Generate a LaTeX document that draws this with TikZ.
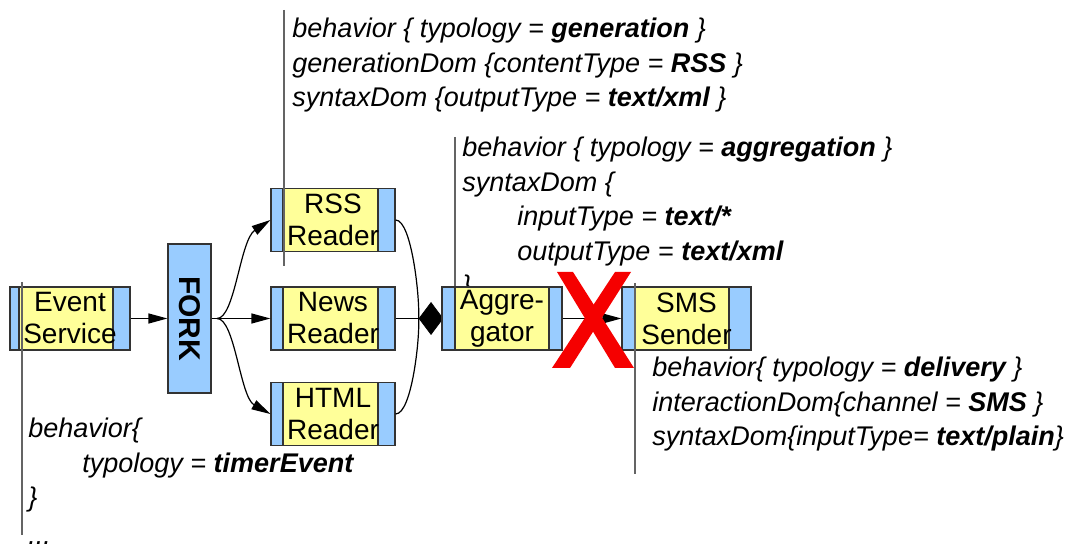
\documentclass[tikz,border=0pt]{standalone}
\usepackage{fontspec}
\setmainfont{Liberation Sans}
\usepackage{graphicx}
\usetikzlibrary{arrows.meta,shapes.geometric}
\definecolor{compblue}{RGB}{153,204,255}
\definecolor{compyellow}{RGB}{255,255,153}
\definecolor{edgegray}{RGB}{51,51,51}
\definecolor{notegray}{RGB}{100,100,100}
\definecolor{crossred}{RGB}{245,0,0}

\begin{document}
\begin{tikzpicture}[x=0.5pt,y=-0.5pt,
  % component box: width, left strip, right strip (all in px)
  comp/.style n args={3}{draw=edgegray, line width=0.6pt, fill=compblue,
    minimum width=#1*0.5pt, minimum height=31.5pt, inner sep=0pt,
    align=center, font=\fontsize{14}{16}\selectfont,
    path picture={\fill[compyellow,draw=edgegray,line width=0.6pt]
      ([xshift=#2*0.5pt]path picture bounding box.south west) rectangle
      ([xshift=-#3*0.5pt]path picture bounding box.north east);}},
  forkbar/.style={draw=edgegray, line width=0.6pt, fill=compblue,
    minimum width=21.5pt, minimum height=74.5pt, inner sep=0pt,
    font=\fontsize{15}{17}\selectfont\bfseries},
  joinmark/.style={diamond, fill=black, draw=black, line width=0.4pt,
    inner sep=0pt, minimum width=12pt, minimum height=16pt},
  note/.style={anchor=base west, inner sep=0pt,
    font=\fontsize{13.5}{17}\selectfont\itshape},
  noteline/.style={draw=notegray, line width=0.8pt},
  wire/.style={draw=black, line width=0.6pt},
  flow/.style={wire, -{Triangle[length=9.5pt,width=5pt]}},
]
\useasboundingbox (0,0) rectangle (1070,544);

% annotations of the generation component
\node[note] (gen1) at (292,38)   {behavior \{ typology = \textbf{generation} \}};
\node[note] (gen2) at (292,72.5) {generationDom \{contentType = \textbf{RSS} \}};
\node[note] (gen3) at (292,107)  {syntaxDom \{outputType = \textbf{text/xml} \}};

% annotations of the aggregator (closing brace sits behind the box)
\node[note] (agg1) at (462,157)   {behavior \{ typology = \textbf{aggregation} \}};
\node[note] (agg2) at (462,191.5) {syntaxDom \{};
\node[note] (agg3) at (517,226)   {inputType = \textbf{text/*}};
\node[note] (agg4) at (517,260.5) {outputType = \textbf{text/xml}};
\node[note] (agg5) at (462,295)   {\}};

% annotations of the SMS sender
\node[note] (sms1) at (652,377)   {behavior\{ typology = \textbf{delivery} \}};
\node[note] (sms2) at (652,411.5) {interactionDom\{channel = \textbf{SMS} \}};
\node[note] (sms3) at (652,446)   {syntaxDom\{inputType= \textbf{text/plain}\}};

% annotations of the event service
\node[note] (ev1) at (28,438)   {behavior\{};
\node[note] (ev2) at (82,472.5) {typology = \textbf{timerEvent}};
\node[note] (ev3) at (28,507)   {\}};
\node[note] (ev4) at (28,544.5) {...};

% components
\node[comp={120}{9}{17}]  (event) at (70,318.5)  {Event\\Service};
\node[forkbar]            (fork)  at (189.5,318.5) {\rotatebox{-90}{FORK}};
\node[comp={124}{12}{17}] (rss)   at (333,220)   {RSS\\Reader};
\node[comp={124}{12}{17}] (news)  at (333,318.5) {News\\Reader};
\node[comp={124}{12}{17}] (html)  at (333,414)   {HTML\\Reader};
\node[joinmark]           (join)  at (431,318.5) {};
\node[comp={120}{13}{13}] (agg)   at (502,318.5) {Aggre-\\gator};
\node[comp={129}{13}{22}] (sms)   at (686.5,318.5) {SMS\\Sender};

% annotation leader lines
\coordinate (genTop) at (284,10);   \coordinate (genEnd) at (284,266);
\coordinate (aggTop) at (455,137);
\coordinate (smsTop) at (635,283);  \coordinate (smsEnd) at (635,474);
\coordinate (evTop)  at (22,282);   \coordinate (evEnd)  at (22,535);
\draw[noteline] (genTop) -- (genEnd);
\draw[noteline] (aggTop) -- (aggTop |- agg.north);
\draw[noteline] (smsTop) -- (smsEnd);
\draw[noteline] (evTop) -- (evEnd);

% flow
\coordinate (split) at (217,318.5);
\draw[flow] (event) -- (fork);
\draw[wire] (fork.east) -- (split);
\draw[flow] (split) .. controls (235,318.5) and (240,240) .. (rss.west);
\draw[flow] (split) -- (news.west);
\draw[flow] (split) .. controls (235,318.5) and (240,397) .. (html.west);
\draw[wire] (rss.east) .. controls (412,220) and (420,300) .. (join.west);
\draw[wire] (news.east) -- (join.west);
\draw[wire] (html.east) .. controls (412,414) and (420,337) .. (join.west);
\draw[flow] (agg.east) -- (sms.west);

% red cross over the broken link
\fill[crossred] (557,272) -- (573,272) -- (634,368) -- (615,368) -- cycle;
\fill[crossred] (615,272) -- (631,272) -- (570,368) -- (552,368) -- cycle;
\end{tikzpicture}
\end{document}
